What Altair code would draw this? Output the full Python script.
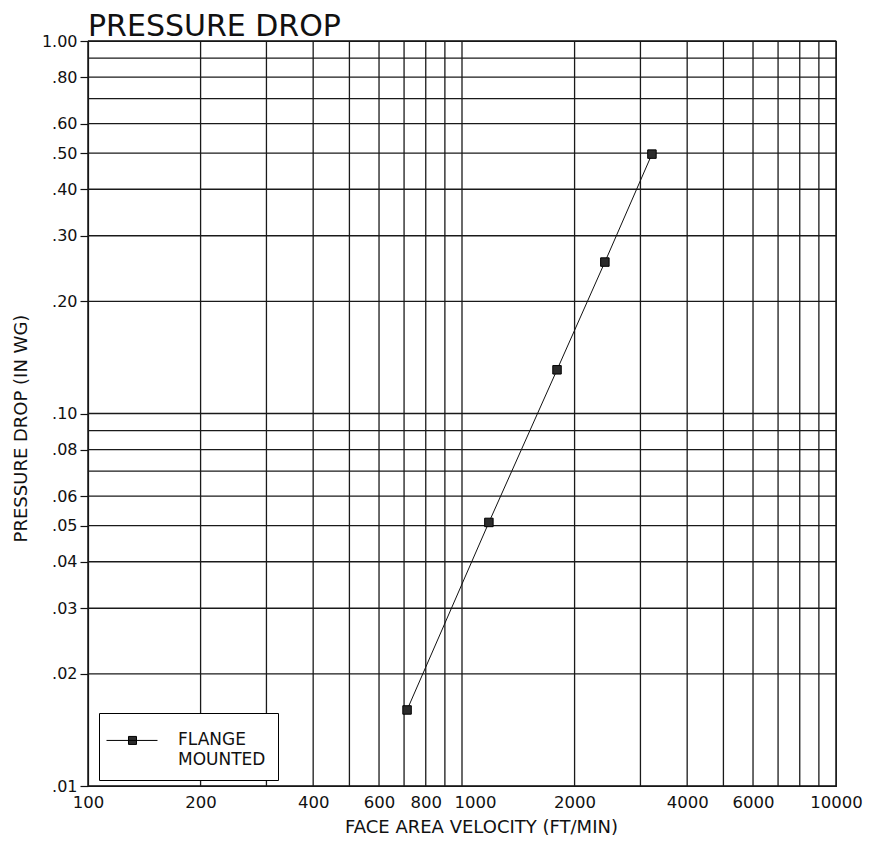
import altair as alt
import pandas as pd

# ---- data ----
velocity = [713, 1180, 1795, 2410, 3220]          # FT/MIN
pressure = [0.016, 0.051, 0.131, 0.255, 0.497]    # IN WG
series_name = "FLANGE MOUNTED"
legend_lines = ["FLANGE", "MOUNTED"]

x_grid = [100, 200, 300, 400, 500, 600, 700, 800, 900,
          1000, 2000, 3000, 4000, 5000, 6000, 7000, 8000, 9000, 10000]
y_grid = [0.01, 0.02, 0.03, 0.04, 0.05, 0.06, 0.07, 0.08, 0.09,
          0.1, 0.2, 0.3, 0.4, 0.5, 0.6, 0.7, 0.8, 0.9, 1.0]

x_tick_values = [100, 200, 400, 600, 800, 1000, 2000, 4000, 6000, 10000]
x_tick_labels = ["100", "200", "400", "600", "800", "1000", "2000", "4000", "6000", "10000"]
y_tick_values = [1.0, 0.8, 0.6, 0.5, 0.4, 0.3, 0.2, 0.1, 0.08, 0.06, 0.05, 0.04, 0.03, 0.02, 0.01]
y_tick_labels = ["1.00", ".80", ".60", ".50", ".40", ".30", ".20", ".10",
                 ".08", ".06", ".05", ".04", ".03", ".02", ".01"]

FONT = "DejaVu Sans"
INK = "#111111"


def label_expr(values, labels):
    expr = "''"
    for v, l in reversed(list(zip(values, labels))):
        tol = v * 1e-6
        expr = f"abs(datum.value - {v}) < {tol} ? '{l}' : ({expr})"
    return expr


xscale = alt.Scale(type="log", domain=[100, 10000], nice=False)
yscale = alt.Scale(type="log", domain=[0.01, 1.0], nice=False)

xaxis = alt.Axis(
    values=x_tick_values, labelExpr=label_expr(x_tick_values, x_tick_labels),
    grid=False, ticks=False, tickSize=0, labelPadding=8,
    labelOffset={"condition": {"test": "datum.value == 1000", "value": 13}, "value": 0},
    labelFont=FONT, labelFontSize=16.5, labelColor=INK,
    domainColor=INK, domainWidth=1.2, labelOverlap=False, labelFlush=False,
    title="FACE AREA VELOCITY (FT/MIN)", titleFont=FONT, titleFontSize=18,
    titleFontWeight="normal", titleColor=INK,
    titleX=393, titleY=46, titleAlign="center", titleBaseline="alphabetic",
)
yaxis = alt.Axis(
    values=y_tick_values, labelExpr=label_expr(y_tick_values, y_tick_labels),
    grid=False, ticks=True, tickSize=8, tickColor=INK, tickWidth=1.2, labelPadding=3,
    labelFont=FONT, labelFontSize=16, labelColor=INK,
    domainColor=INK, domainWidth=1.2, labelOverlap=False, labelFlush=False,
    title="PRESSURE DROP (IN WG)", titleFont=FONT, titleFontSize=18,
    titleFontWeight="normal", titleColor=INK,
    titleX=-62, titleY=387, titleAlign="center", titleBaseline="alphabetic", titleAngle=-90,
)

xgrid_df = pd.DataFrame({"v": x_grid})
ygrid_df = pd.DataFrame({"p": y_grid})
data_df = pd.DataFrame({"v": velocity, "p": pressure, "series": [series_name] * len(velocity)})

xgrid = alt.Chart(xgrid_df).mark_rule(color="#1a1a1a", strokeWidth=1.3).encode(
    x=alt.X("v:Q", scale=xscale, axis=xaxis)
)
ygrid = alt.Chart(ygrid_df).mark_rule(color="#1a1a1a", strokeWidth=1.3).encode(
    y=alt.Y("p:Q", scale=yscale, axis=yaxis)
)

line = alt.Chart(data_df).mark_line(color=INK, strokeWidth=1).encode(
    x=alt.X("v:Q", scale=xscale, axis=xaxis),
    y=alt.Y("p:Q", scale=yscale, axis=yaxis),
)

legend_symbol = ("M-1.345,0.03L2.172,0.03"
                 "M0.172,-0.246L0.724,-0.246L0.724,0.306L0.172,0.306Z")
legend_label_expr = "[" + ", ".join(f"'{t}'" for t in legend_lines) + "]"

points = alt.Chart(data_df).mark_point(
    shape="square", filled=True, size=72, stroke="black", strokeWidth=1, opacity=1
).encode(
    x=alt.X("v:Q", scale=xscale, axis=xaxis),
    y=alt.Y("p:Q", scale=yscale, axis=yaxis),
    color=alt.Color(
        "series:N",
        scale=alt.Scale(range=["#2b2b2b"]),
        legend=alt.Legend(
            title=None, orient="none", legendX=11, legendY=672,
            fillColor="white", strokeColor="black", padding=12,
            symbolType=legend_symbol, symbolSize=841,
            symbolStrokeColor="black", symbolFillColor="#2b2b2b", symbolStrokeWidth=1,
            symbolOpacity=1,
            labelFont=FONT, labelFontSize=17, labelColor=INK, labelOffset=37,
            labelExpr=legend_label_expr, labelLimit=250,
        ),
    ),
)

chart = alt.layer(xgrid, ygrid, line, points).properties(
    width=748,
    height=745,
    padding={"left": 80, "top": 33, "right": 28, "bottom": 50},
    autosize=alt.AutoSizeParams(type="none"),
    title=alt.TitleParams(
        "PRESSURE DROP", anchor="start", frame="group", font=FONT, fontSize=30,
        fontWeight="normal", color=INK, baseline="alphabetic", offset=-33,
    ),
).configure(
    background="white",
    style={"guide-label": {"lineHeight": 20}},
).configure_view(stroke=INK, strokeWidth=1.2)

chart.save("out.html", embed_options={"renderer": "svg", "actions": False})
